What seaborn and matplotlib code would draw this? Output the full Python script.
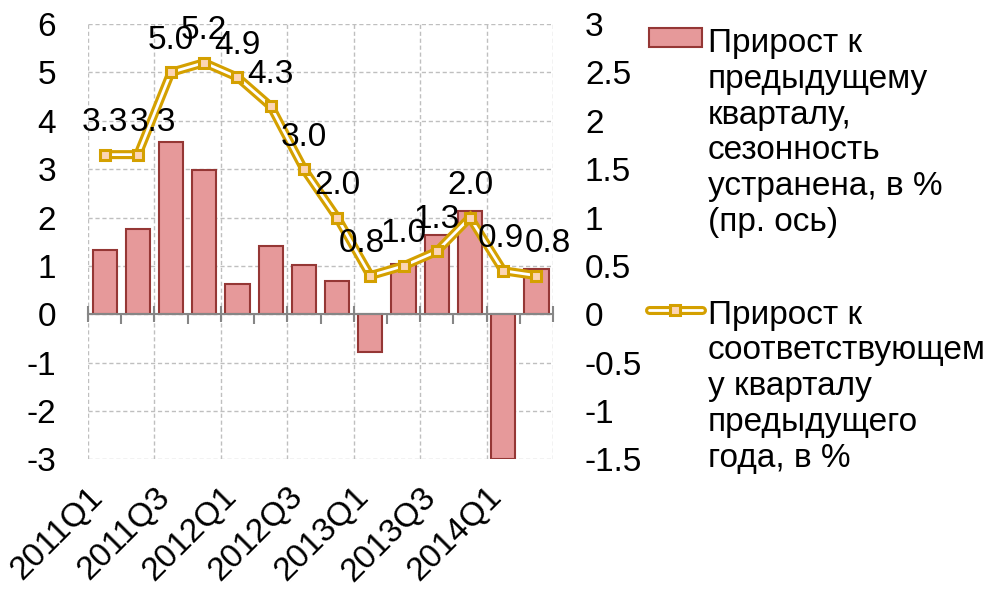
import numpy as np
import matplotlib
matplotlib.use('Agg')
import matplotlib.pyplot as plt
import matplotlib.transforms as mtransforms
from matplotlib.ticker import FuncFormatter
from matplotlib.legend_handler import HandlerTuple
import seaborn as sns

# Data
quarters = ['2011Q1', '2011Q2', '2011Q3', '2011Q4', '2012Q1', '2012Q2', '2012Q3',
            '2012Q4', '2013Q1', '2013Q2', '2013Q3', '2013Q4', '2014Q1', '2014Q2']
qoq_sa = [0.66, 0.88, 1.78, 1.49, 0.31, 0.71, 0.51, 0.34, -0.39, 0.52, 0.82, 1.07, -1.5, 0.47]
yoy = [3.3, 3.3, 5.0, 5.2, 4.9, 4.3, 3.0, 2.0, 0.8, 1.0, 1.3, 2.0, 0.9, 0.8]
bar_label = 'Прирост к\nпредыдущему\nкварталу,\nсезонность\nустранена, в %\n(пр. ось)'
line_label = 'Прирост к\nсоответствующем\nу кварталу\nпредыдущего\nгода, в %'

# label nudges (points), to mimic the original label placement
label_dx = [0, 11, 0, 0, 0, 0, 0, 0, -6, 0, 0, 0, -2, 8]

bar_fill = '#E6999A'
bar_edge = '#953735'
gold = '#D4A000'
peach = '#FCD5B5'
grid_col = '#BFBFBF'
axis_col = '#868686'
fs = 24

sns.set_theme(style='white')
plt.rcParams['font.family'] = ['Liberation Sans', 'DejaVu Sans']
plt.rcParams['font.size'] = fs
plt.rcParams['text.color'] = 'black'
plt.rcParams['xtick.color'] = 'black'
plt.rcParams['ytick.color'] = 'black'

fig = plt.figure(figsize=(9.98, 5.89), dpi=100)
ax = fig.add_axes([0.0882, 0.2199, 0.4659, 0.7394])
ax2 = ax.twinx()

x = np.arange(len(quarters))

# bars -> right axis scale (drawn on primary axes, ticks moved to the right)
sns.barplot(x=quarters, y=qoq_sa, ax=ax, color=bar_fill, saturation=1,
            edgecolor=bar_edge, linewidth=1.5, width=0.73)

# line -> left axis scale
sns.lineplot(x=x, y=yoy, ax=ax2, color=gold, lw=6.5, solid_joinstyle='miter')
sns.lineplot(x=x, y=yoy, ax=ax2, color='white', lw=2, solid_joinstyle='miter')
sns.lineplot(x=x, y=yoy, ax=ax2, lw=0, marker='s', markersize=7.5,
             markerfacecolor=peach, markeredgecolor=gold, markeredgewidth=2.2)

for i, v in enumerate(yoy):
    ax2.annotate(f'{v:.1f}', (x[i], v), xytext=(label_dx[i], 23),
                 textcoords='offset points', ha='center', va='center', fontsize=fs)

ax.set_xlim(-0.5, len(quarters) - 0.5)
ax.set_ylim(-1.5, 3)
ax2.set_ylim(-3, 6)

ax.yaxis.tick_right()
ax2.yaxis.tick_left()
ax.set_yticks(np.arange(-1.5, 3.01, 0.5))
ax2.set_yticks(np.arange(-3, 7, 1))
fmt = FuncFormatter(lambda v, p: f'{v:g}')
ax.yaxis.set_major_formatter(fmt)
ax2.yaxis.set_major_formatter(fmt)
ax.set_ylabel('')
ax2.set_ylabel('')
ax.set_xlabel('')

ax.set_xticks(x[::2])
ax.set_xticklabels(quarters[::2], rotation=45, ha='right', va='baseline',
                   rotation_mode='anchor')
shift = mtransforms.ScaledTranslation(7 / 100, 0, fig.dpi_scale_trans)
for lbl in ax.get_xticklabels():
    lbl.set_transform(lbl.get_transform() + shift)
bounds = np.arange(-0.5, len(quarters), 1.0)
ax.set_xticks(bounds[::2], minor=True)
ax.tick_params(axis='x', which='both', length=0, pad=28, labelsize=fs)
ax.tick_params(axis='y', length=0, pad=23, labelsize=fs)
ax2.tick_params(axis='y', length=0, pad=23, labelsize=fs)

ax.grid(False)
ax.grid(which='minor', axis='x', color=grid_col, linestyle=(0, (3, 2)), lw=1)
ax.grid(which='major', axis='y', color=grid_col, linestyle=(0, (3, 2)), lw=1)
ax.set_axisbelow(True)
ax2.grid(False)

for a in (ax, ax2):
    for s in a.spines.values():
        s.set_visible(False)

# zero axis with category ticks
secax = ax.secondary_xaxis(1.5 / 4.5)
secax.set_xticks(bounds[::2])
secax.set_xticks(bounds[1::2], minor=True)
secax.tick_params(which='major', length=11, direction='inout', color=axis_col, width=1.5,
                  labelbottom=False, labeltop=False)
secax.tick_params(which='minor', length=7, direction='out', color=axis_col, width=1.5)
for s in secax.spines.values():
    s.set_color(axis_col)
    s.set_linewidth(1.5)
secax.set_zorder(3)

handles = [ax.containers[0], tuple(ax2.lines[:3])]
leg = fig.legend(handles, [bar_label, line_label], loc='upper left',
                 bbox_to_anchor=(0.650, 0.9525), frameon=False, borderpad=0,
                 borderaxespad=0, handlelength=1.6, handleheight=0.5,
                 handletextpad=0.18, labelspacing=1.85, fontsize=fs,
                 handler_map={tuple: HandlerTuple(ndivide=1)})
for col in leg._legend_handle_box.get_children():
    for item in col.get_children():
        item.align = 'top'

fig.savefig('out.png', dpi=100, facecolor='white')
